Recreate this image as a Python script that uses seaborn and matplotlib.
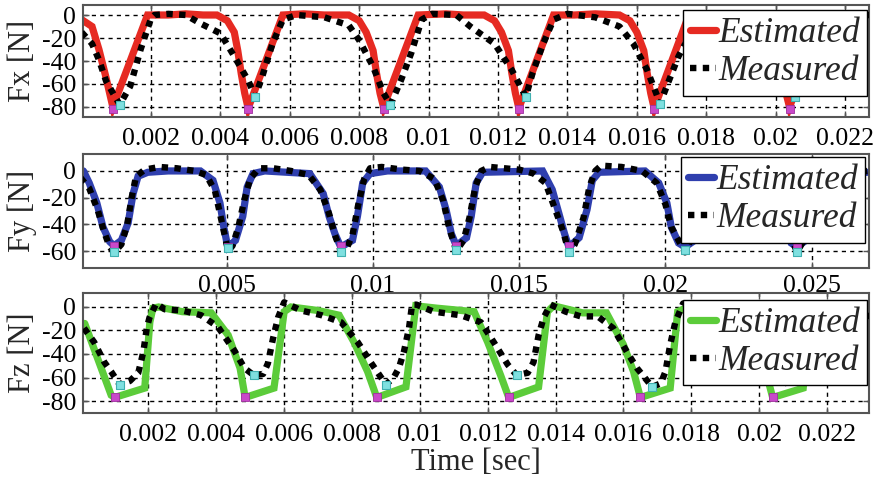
import matplotlib
matplotlib.use("Agg")
import matplotlib.pyplot as plt
import pandas as pd
import seaborn as sns
from matplotlib.lines import Line2D
from matplotlib.font_manager import FontProperties

sns.set_theme(style="white")
plt.rcParams['font.family'] = ['Liberation Serif', 'DejaVu Serif']
plt.rcParams['axes.unicode_minus'] = False

# ---------------- data (time [s], force [N]) ----------------
fx_est = [(0.0000, -4), (0.0003, -10), (0.0005, -30), (0.0007, -54), (0.0009, -80),
          (0.0019, 0), (0.0025, 0), (0.0030, 1), (0.0035, 0), (0.0039, 0),
          (0.0042, -5), (0.0044, -15), (0.0045, -31), (0.0046, -51), (0.0047, -68), (0.0048, -81),
          (0.0058, 0), (0.0064, 1), (0.0070, 0), (0.0077, 0),
          (0.0080, -5), (0.0082, -15), (0.0084, -31), (0.0085, -51), (0.0086, -68), (0.0087, -80),
          (0.0097, 0), (0.0105, 1), (0.0110, 0), (0.0116, 0),
          (0.0119, -5), (0.0121, -15), (0.0123, -31), (0.0124, -51), (0.0125, -68), (0.0126, -81),
          (0.0136, 0), (0.0142, 0), (0.0148, 1), (0.0155, 0),
          (0.0158, -5), (0.0160, -15), (0.0162, -31), (0.0163, -51), (0.0164, -68), (0.0165, -81),
          (0.0175, 0), (0.0185, 0), (0.0194, 0),
          (0.0197, -5), (0.0199, -15), (0.0201, -31), (0.0202, -51), (0.0203, -68), (0.0204, -80),
          (0.0214, 0), (0.0227, 0)]
fx_meas = [(0.0000, -15), (0.0003, -25), (0.0005, -39), (0.0007, -57), (0.00096, -71), (0.0011, -78),
           (0.0014, -62), (0.0017, -30), (0.0020, -3), (0.0021, 0), (0.0025, 1), (0.0030, 0),
           (0.0034, -7), (0.0040, -16), (0.0044, -36), (0.0048, -57), (0.0050, -71),
           (0.0052, -54), (0.0055, -25), (0.0058, -4), (0.0062, 0), (0.0070, -2),
           (0.0077, -9), (0.0080, -22), (0.0084, -45), (0.0087, -68), (0.0089, -78),
           (0.0092, -57), (0.0095, -33), (0.0098, -4), (0.0101, 1), (0.0108, 0),
           (0.0112, -10), (0.0119, -25), (0.0124, -48), (0.0128, -71),
           (0.0130, -50), (0.0133, -25), (0.0136, -4), (0.0140, 1), (0.0148, -2),
           (0.0155, -10), (0.0159, -25), (0.0163, -48), (0.01667, -77),
           (0.0169, -59), (0.0172, -36), (0.0175, -19), (0.0179, -2), (0.0185, 0),
           (0.0191, -5), (0.0197, -15), (0.0201, -40), (0.0204, -60), (0.02056, -71),
           (0.0209, -45), (0.0212, -20), (0.0216, -2), (0.0227, 0)]
fx_est_min = [(0.0009, -82), (0.0048, -82), (0.0087, -82), (0.0126, -82), (0.0165, -82), (0.0204, -82)]
fx_meas_min = [(0.0011, -78), (0.0050, -71), (0.0089, -78), (0.0128, -71), (0.01667, -77), (0.02056, -71)]

fy_est = [(0.0001, 0), (0.0003, -9), (0.00056, -24), (0.00077, -42), (0.0010, -53), (0.00115, -56),
          (0.0014, -52), (0.00163, -39), (0.0018, -17), (0.00197, -4), (0.0023, -1), (0.0030, 0),
          (0.0041, 0), (0.00453, -7), (0.00477, -24), (0.0049, -42), (0.0050, -53), (0.00505, -57),
          (0.0053, -52), (0.00555, -34), (0.0057, -12), (0.0059, -2), (0.0063, 0),
          (0.00784, -2), (0.0083, -17), (0.0085, -34), (0.0087, -47), (0.0089, -57),
          (0.0093, -52), (0.00947, -34), (0.00965, -9), (0.0099, -2), (0.0105, 0),
          (0.0118, 0), (0.01227, -12), (0.0125, -29), (0.01268, -47), (0.01285, -56),
          (0.0132, -50), (0.01336, -34), (0.01353, -9), (0.01375, -1),
          (0.0158, 0), (0.01613, -14), (0.01636, -32), (0.01655, -47), (0.0167, -57),
          (0.01705, -50), (0.01732, -29), (0.0175, -7), (0.01773, -1), (0.0193, 0),
          (0.01977, -9), (0.02005, -24), (0.0202, -42), (0.02045, -54), (0.02067, -57),
          (0.0210, -52), (0.02125, -34), (0.0214, -12), (0.0216, -2), (0.0232, 0),
          (0.0236, -9), (0.0239, -24), (0.0241, -42), (0.0243, -54), (0.0245, -57),
          (0.0248, -52), (0.0250, -34), (0.0252, -12), (0.0254, -2), (0.0269, -1)]
fy_meas = [(0.0000, -5), (0.0003, -13), (0.0006, -30), (0.0008, -45), (0.0010, -57), (0.00115, -61),
           (0.0014, -55), (0.0016, -40), (0.00175, -20), (0.0019, -4), (0.0022, 1), (0.0027, 3),
           (0.0033, 2), (0.0039, 0), (0.0043, -3), (0.0046, -15), (0.0048, -35), (0.00495, -50),
           (0.00505, -60), (0.0052, -56), (0.0054, -42), (0.0056, -22), (0.0058, -6), (0.0061, 2),
           (0.0066, 2), (0.0072, 0), (0.0078, -3), (0.0082, -14), (0.0085, -32), (0.0087, -48),
           (0.0089, -60), (0.0091, -58), (0.0093, -48), (0.0095, -25), (0.0097, -6), (0.0099, 2),
           (0.0103, 3), (0.0110, 1), (0.0116, 0), (0.0121, -6), (0.0124, -22), (0.0126, -42),
           (0.01285, -60), (0.0131, -52), (0.0133, -35), (0.0135, -12), (0.0137, 0), (0.0140, 3),
           (0.0145, 2), (0.0150, 1), (0.0155, -2), (0.0159, -9), (0.0162, -27), (0.0165, -45),
           (0.0167, -61), (0.0169, -55), (0.0172, -35), (0.0174, -12), (0.0176, 0), (0.0178, 4),
           (0.0185, 3), (0.0192, 0), (0.0197, -9), (0.0200, -25), (0.0202, -42), (0.02067, -61),
           (0.0209, -50), (0.0212, -30), (0.0215, -6), (0.0220, 2), (0.0231, 0), (0.0237, -12),
           (0.0241, -38), (0.0245, -61), (0.0249, -45), (0.0253, -5), (0.0269, 0)]
fy_est_min = [(0.00115, -56), (0.00505, -57), (0.0089, -56), (0.01285, -56), (0.0167, -56), (0.0245, -56)]
fy_meas_min = [(0.00115, -61), (0.00505, -58), (0.0089, -61), (0.01285, -59), (0.0167, -61),
               (0.02067, -59), (0.0245, -61)]

fz_est = [(0.00012, -14), (0.0009, -75), (0.0010, -77), (0.00189, -69), (0.00204, -13), (0.00213, -1),
          (0.0023, 0), (0.0030, -4), (0.00385, -5), (0.00435, -24), (0.0047, -52), (0.00485, -77),
          (0.0057, -69), (0.0060, -4), (0.0062, 0), (0.0070, -3), (0.00762, -7), (0.00806, -30),
          (0.00846, -55), (0.00873, -77), (0.00959, -68), (0.00988, 1), (0.0105, -1), (0.0116, -4),
          (0.0120, -30), (0.01238, -58), (0.01262, -77), (0.0135, -68), (0.01376, -4), (0.01394, 1),
          (0.0148, -5), (0.0155, -5), (0.0160, -32), (0.0163, -55), (0.0165, -77), (0.01738, -69),
          (0.0176, -4), (0.0179, 0), (0.0187, -3), (0.0195, -6), (0.0199, -32), (0.0202, -55),
          (0.0204, -77), (0.0213, -69), (0.0215, -4), (0.0218, 0), (0.0226, -4), (0.0233, -8)]
fz_meas = [(0.0001, -18), (0.0004, -30), (0.0007, -47), (0.0009, -55), (0.00115, -66), (0.00145, -63),
           (0.0017, -56), (0.00185, -38), (0.00195, -18), (0.00203, -9), (0.00223, 3), (0.00248, -2),
           (0.0030, -3), (0.00355, -7), (0.00405, -17), (0.00455, -38), (0.00483, -52), (0.0051, -58),
           (0.00538, -57), (0.00552, -48), (0.00567, -27), (0.00582, -9), (0.0060, 4), (0.0065, -3),
           (0.0071, -7), (0.00768, -13), (0.00817, -30), (0.00855, -47), (0.0090, -66), (0.00923, -60),
           (0.00938, -52), (0.00953, -38), (0.00968, -18), (0.00977, 2), (0.0099, 2), (0.01041, -4),
           (0.0112, -7), (0.0118, -13), (0.01218, -30), (0.01259, -49), (0.01285, -58), (0.01318, -56),
           (0.01335, -47), (0.0135, -24), (0.01365, -9), (0.01385, 2), (0.0143, -4), (0.01474, -8),
           (0.01524, -8), (0.0157, -18), (0.0161, -38), (0.0164, -52), (0.01685, -68), (0.0171, -65),
           (0.01724, -55), (0.01738, -32), (0.01753, -13), (0.01776, 3), (0.0182, 0), (0.0190, -6),
           (0.0196, -15), (0.0200, -38), (0.0203, -52), (0.0207, -66), (0.0210, -60), (0.0212, -40),
           (0.0214, -12), (0.0216, 2), (0.0225, -4), (0.0233, -8)]
fz_est_min = [(0.0010, -77), (0.00485, -77), (0.00873, -77), (0.01262, -77), (0.0165, -77), (0.0204, -77)]
fz_meas_min = [(0.00115, -66), (0.0051, -58), (0.0090, -66), (0.01285, -58), (0.01685, -68)]

xt_x = [0.002, 0.004, 0.006, 0.008, 0.010, 0.012, 0.014, 0.016, 0.018, 0.020, 0.022]
xt_x_labels = ["0.002", "0.004", "0.006", "0.008", "0.01", "0.012", "0.014", "0.016", "0.018", "0.02", "0.022"]
xt_y = [0.005, 0.010, 0.015, 0.020, 0.025]
xt_y_labels = ["0.005", "0.01", "0.015", "0.02", "0.025"]
yt_80 = [0, -20, -40, -60, -80]
yt_60 = [0, -20, -40, -60]
legend_labels = ["Estimated", "Measured"]
ylabels = ["Fx [N]", "Fy [N]", "Fz [N]"]
xlabel_text = "Time [sec]"

# ---------------- layout ----------------
W, H = 874, 482
fig = plt.figure(figsize=(W / 100, H / 100), dpi=100)


def add_ax(l, t, r, b):
    return fig.add_axes([l / W, 1 - b / H, (r - l) / W, (b - t) / H])


panels = [
    dict(box=(83, 5, 869, 117), est=fx_est, meas=fx_meas, emin=fx_est_min, mmin=fx_meas_min,
         color="#e62a22", ylabel=ylabels[0], xt=xt_x, xtl=xt_x_labels, yt=yt_80,
         xlim=(0.00004, 0.02269), ylim=(-88.7, 8.7), leg=(0.9975, 0.955), xpad=8),
    dict(box=(83, 154, 869, 268), est=fy_est, meas=fy_meas, emin=fy_est_min, mmin=fy_meas_min,
         color="#2f3fae", ylabel=ylabels[1], xt=xt_y, xtl=xt_y_labels, yt=yt_60,
         xlim=(0.000087, 0.02696), ylim=(-72.7, 12.7), leg=(0.995, 0.973), xpad=5),
    dict(box=(83, 293, 869, 413), est=fz_est, meas=fz_meas, emin=fz_est_min, mmin=fz_meas_min,
         color="#5ccc3a", ylabel=ylabels[2], xt=xt_x, xtl=xt_x_labels, yt=yt_80,
         xlim=(0.00007, 0.02324), ylim=(-90.2, 11.9), leg=(0.9975, 0.942), xpad=8),
]

meas_ls = (0, (1.0, 1.0))
leg_font = FontProperties(family="Liberation Serif", style="italic", size=25.5)

axes = []
for p in panels:
    ax = add_ax(*p["box"])
    axes.append(ax)
    de = pd.DataFrame(p["est"], columns=["t", "F"])
    dm = pd.DataFrame(p["meas"], columns=["t", "F"])
    sns.lineplot(data=de, x="t", y="F", ax=ax, color=p["color"], linewidth=5.2,
                 sort=False, estimator=None, solid_joinstyle="miter", zorder=2)
    sns.lineplot(data=dm, x="t", y="F", ax=ax, color="black", linewidth=4.6,
                 linestyle=meas_ls, dash_capstyle="butt", sort=False, estimator=None, zorder=3)
    dmin_e = pd.DataFrame(p["emin"], columns=["t", "F"])
    dmin_m = pd.DataFrame(p["mmin"], columns=["t", "F"])
    sns.scatterplot(data=dmin_e, x="t", y="F", ax=ax, marker="s", s=30, color="#c948c9",
                    edgecolor="#a030a0", linewidth=0.6, zorder=4)
    sns.scatterplot(data=dmin_m, x="t", y="F", ax=ax, marker="s", s=30, color="#7fe0e0",
                    edgecolor="#40b0b0", linewidth=0.8, zorder=4)

    ax.set_xlim(*p["xlim"])
    ax.set_ylim(*p["ylim"])
    ax.set_xticks(p["xt"])
    ax.set_xticklabels(p["xtl"])
    ax.set_yticks(p["yt"])
    ax.set_yticklabels([str(v) for v in p["yt"]])
    ax.tick_params(axis="x", pad=p["xpad"])
    ax.tick_params(axis="y", pad=5)
    ax.tick_params(axis="both", which="major", direction="in", length=4, width=1,
                   top=True, right=True, bottom=True, left=True, colors="#555555",
                   labelcolor="black", labelsize=18.5)
    ax.grid(True, color="black", linestyle=(0, (3, 3)), linewidth=1.0)
    for s in ax.spines.values():
        s.set_visible(True)
        s.set_color("#555555")
        s.set_linewidth(1.5)
    ax.set_xlabel("")
    ax.set_ylabel(p["ylabel"], fontsize=22)
    ax.yaxis.set_label_coords(-0.058, 0.5)

    handles = [Line2D([], [], color=p["color"], linewidth=5.2),
               Line2D([], [], color="black", linewidth=4.6, linestyle=meas_ls,
                      dash_capstyle="butt")]
    leg = ax.legend(handles, legend_labels, loc="upper right", bbox_to_anchor=p["leg"],
                    prop=leg_font, frameon=True, fancybox=False, framealpha=1,
                    edgecolor="black", handlelength=0.75, handletextpad=0.05,
                    borderpad=0.2, labelspacing=0.15, borderaxespad=0)
    leg.get_frame().set_linewidth(1.0)
    leg.set_zorder(10)

axes[2].set_xlabel(xlabel_text, fontsize=22, va="center")
axes[2].xaxis.set_label_coords(0.5, -0.415)

fig.savefig("out.png", dpi=100)
